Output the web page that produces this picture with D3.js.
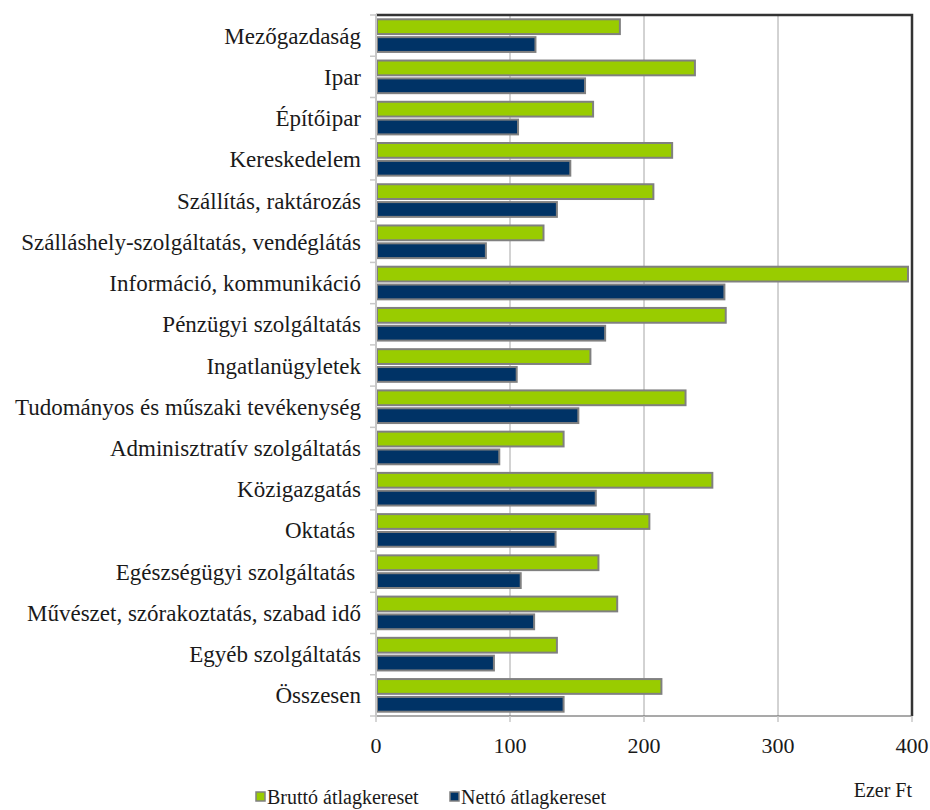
<!DOCTYPE html>
<html><head><meta charset="utf-8">
<script src="https://cdn.jsdelivr.net/npm/d3@7"></script>
<style>
html,body{margin:0;padding:0;background:#fff;}
svg{display:block;}
</style></head>
<body><div id="chart"></div>
<script>
const categories = ["Mezőgazdaság","Ipar","Építőipar","Kereskedelem","Szállítás, raktározás","Szálláshely-szolgáltatás, vendéglátás","Információ, kommunikáció","Pénzügyi szolgáltatás","Ingatlanügyletek","Tudományos és műszaki tevékenység","Adminisztratív szolgáltatás","Közigazgatás","Oktatás ","Egészségügyi szolgáltatás ","Művészet, szórakoztatás, szabad idő","Egyéb szolgáltatás","Összesen"];
const brutto = [182,238,162,221,207,125,397,261,160,231,140,251,204,166,180,135,213];
const netto  = [119,156,106,145,135,82,260,171,105,151,92,164,134,108,118,88,140];
const xTicks = [0,100,200,300,400];
const seriesNames = ["Bruttó átlagkereset","Nettó átlagkereset"];
const seriesColors = ["#99cc00","#003366"];
const unitLabel = "Ezer Ft";

const W=930,H=810;
const L=376,R=912,T=15,B=716;
const FONT="'Liberation Serif', 'DejaVu Serif', serif";
const svg=d3.select("#chart").append("svg").attr("width",W).attr("height",H)
  .attr("font-family",FONT).style("font-family",FONT);

const x=d3.scaleLinear().domain([0,400]).range([L,R]);
const y=d3.scaleBand().domain(categories).range([T,B]);
const bw=y.bandwidth();
const sub=d3.scaleBand().domain([0,1]).range([3.3,bw-3.3]).paddingInner(0.06);

svg.append("g").selectAll("line").data(xTicks.filter(d=>d>0&&d<400)).join("line")
  .attr("x1",d=>x(d)).attr("x2",d=>x(d)).attr("y1",T).attr("y2",B)
  .attr("stroke","#a6a6a6").attr("stroke-width",1);

const series=[brutto,netto];
series.forEach((vals,si)=>{
  svg.append("g").selectAll("rect").data(vals).join("rect")
    .attr("x",x(0)+1)
    .attr("y",(d,i)=>y(categories[i])+sub(si)+1)
    .attr("width",d=>x(d)-x(0)-1)
    .attr("height",sub.bandwidth()-2)
    .attr("fill",seriesColors[si])
    .attr("stroke","#808080").attr("stroke-width",2);
});

svg.append("path").attr("d",`M${L},${T}H${R}V${B}`).attr("fill","none")
  .attr("stroke","#333").attr("stroke-width",2.5);
svg.append("line").attr("x1",L).attr("x2",R).attr("y1",B).attr("y2",B)
  .attr("stroke","#555").attr("stroke-width",1.2);

const yEdges=categories.map(c=>y(c)).concat([B]);
svg.append("line").attr("x1",L).attr("x2",L).attr("y1",T-1).attr("y2",B+1)
  .attr("stroke","#c8c8c8").attr("stroke-width",2);
svg.append("g").selectAll("line").data(yEdges).join("line")
  .attr("x1",L-6).attr("x2",L).attr("y1",d=>d).attr("y2",d=>d)
  .attr("stroke","#c8c8c8").attr("stroke-width",1.5);

svg.append("g").selectAll("line").data(xTicks).join("line")
  .attr("x1",d=>x(d)).attr("x2",d=>x(d)).attr("y1",B).attr("y2",B+6)
  .attr("stroke","#c8c8c8").attr("stroke-width",1.5);

const txt=(sel)=>sel.attr("fill","#1a1a1a").attr("font-family",FONT).style("white-space","pre");

txt(svg.append("g").selectAll("text").data(categories).join("text")
  .attr("x",361).attr("y",d=>y(d)+bw/2).attr("dy","0.35em")
  .attr("text-anchor","end").attr("font-size",23).text(d=>d));

txt(svg.append("g").selectAll("text").data(xTicks).join("text")
  .attr("x",d=>x(d)).attr("y",745).attr("dy","0.35em")
  .attr("text-anchor","middle").attr("font-size",22).text(d=>d));

const lg=svg.append("g");
const legX=[255,449];
seriesNames.forEach((n,i)=>{
  lg.append("rect").attr("x",legX[i]+1).attr("y",792).attr("width",9).attr("height",9)
    .attr("fill",seriesColors[i]).attr("stroke","#808080").attr("stroke-width",1.5);
  txt(lg.append("text").attr("x",legX[i]+12).attr("y",797).attr("dy","0.35em")
    .attr("font-size",20).text(n));
});
txt(svg.append("text").attr("x",912).attr("y",790).attr("dy","0.35em")
  .attr("text-anchor","end").attr("font-size",20).text(unitLabel));
</script></body></html>
